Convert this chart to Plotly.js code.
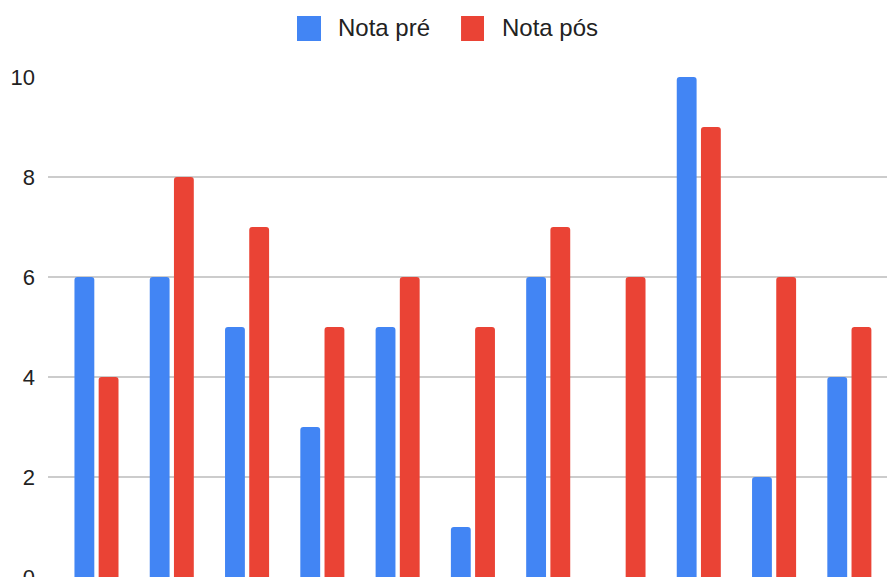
<!DOCTYPE html>
<html>
<head>
<meta charset="utf-8">
<script src="https://cdn.plot.ly/plotly-3.0.1.min.js"></script>
<style>html,body{margin:0;padding:0;background:#fff;}#chart{width:887px;height:577px;}</style>
</head>
<body>
<div id="chart"></div>
<script>
const categories = ["1","2","3","4","5","6","7","8","9","10","11"];
const notaPre = [6, 6, 5, 3, 5, 1, 6, 0, 10, 2, 4];
const notaPos = [4, 8, 7, 5, 6, 5, 7, 6, 9, 6, 5];
const seriesNames = ["Nota pré", "Nota pós"];
const yTicks = [0, 2, 4, 6, 8, 10];

const blue = "#4285F4";
const red = "#EA4335";
const font = "Liberation Sans, Arial, sans-serif";

const traces = [
  {type: "bar", name: seriesNames[0], x: categories, y: notaPre,
   marker: {color: blue, cornerradius: 3}, showlegend: false, hoverinfo: "y+name"},
  {type: "bar", name: seriesNames[1], x: categories, y: notaPos,
   marker: {color: red, cornerradius: 3}, showlegend: false, hoverinfo: "y+name"}
];

const layout = {
  width: 887, height: 577,
  margin: {l: 48, r: 0, t: 77, b: 0, pad: 0},
  paper_bgcolor: "#fff", plot_bgcolor: "#fff",
  font: {family: font, size: 24, color: "#222"},
  barmode: "group",
  bargap: 0.357,
  bargroupgap: 0.18,
  showlegend: false,
  xaxis: {
    type: "category",
    range: [-0.644, 10.5],
    showticklabels: false, showgrid: false, zeroline: false, showline: false, ticks: ""
  },
  yaxis: {
    range: [0, 10],
    tickvals: yTicks,
    ticktext: yTicks.map(String),
    showgrid: true, gridcolor: "#cccccc", gridwidth: 1.3,
    zeroline: false, showline: false, ticks: "",
    ticklabelstandoff: 12,
    ticklabeloverflow: "allow",
    tickfont: {family: font, size: 22, color: "#222"}
  },
  shapes: [
    {type: "rect", xref: "paper", yref: "paper", x0: 0.2968, x1: 0.3254, y0: 1.072, y1: 1.122,
     fillcolor: blue, line: {width: 0}},
    {type: "rect", xref: "paper", yref: "paper", x0: 0.4923, x1: 0.5197, y0: 1.072, y1: 1.122,
     fillcolor: red, line: {width: 0}}
  ],
  annotations: [
    {xref: "paper", yref: "paper", x: 0.3432, y: 1.098, xanchor: "left", yanchor: "middle",
     text: seriesNames[0], showarrow: false, font: {family: font, size: 24, color: "#222"}},
    {xref: "paper", yref: "paper", x: 0.5387, y: 1.098, xanchor: "left", yanchor: "middle",
     text: seriesNames[1], showarrow: false, font: {family: font, size: 24, color: "#222"}}
  ]
};

Plotly.newPlot("chart", traces, layout, {displayModeBar: false, staticPlot: true});
</script>
</body>
</html>
